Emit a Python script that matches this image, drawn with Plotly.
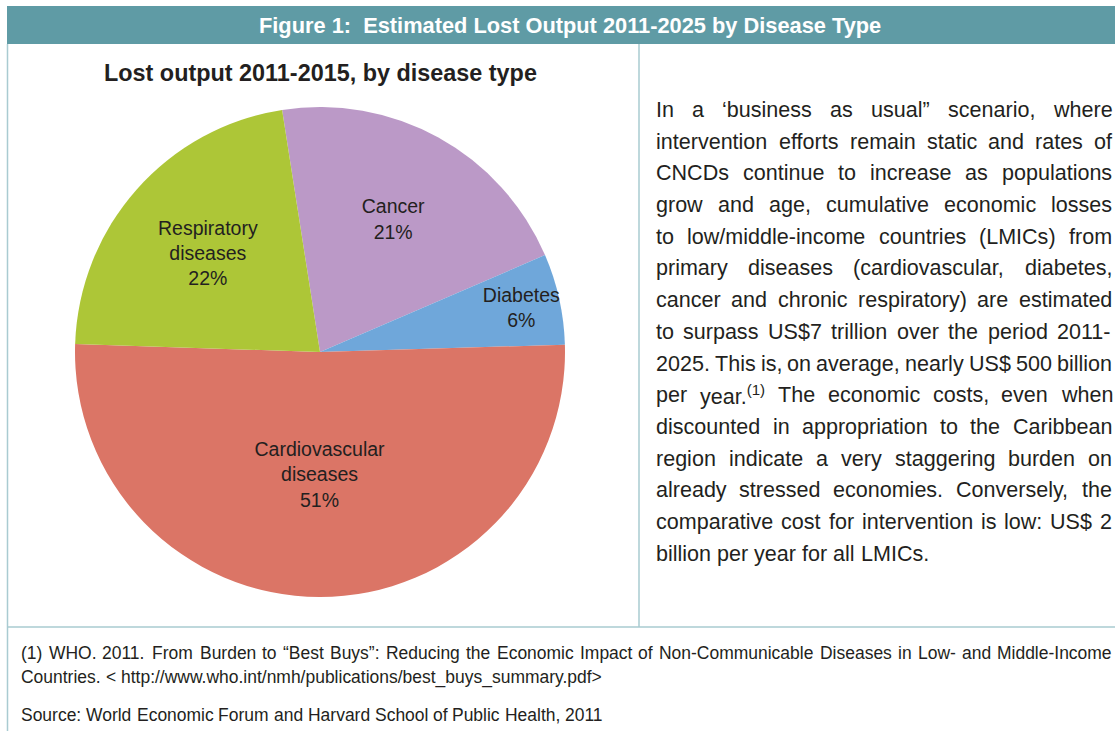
import plotly.graph_objects as go

W, H = 1115, 731

# ---- data ----
categories = ["Cancer", "Diabetes", "Cardiovascular diseases", "Respiratory diseases"]
label_text = ["Cancer", "Diabetes", "Cardiovascular<br>diseases", "Respiratory<br>diseases"]
values = [21, 6, 51, 22]
colors = ["#bb99c7", "#6fa7da", "#db7566", "#adc637"]

header = "Figure 1:\u00a0 Estimated Lost Output 2011-2025 by Disease Type"
chart_title = "Lost output 2011-2015, by disease type"
paragraph_lines = [
    "In a \u2018business as usual\u201d scenario, where",
    "intervention efforts remain static and rates of",
    "CNCDs continue to increase as populations",
    "grow and age, cumulative economic losses",
    "to low/middle-income countries (LMICs) from",
    "primary diseases (cardiovascular, diabetes,",
    "cancer and chronic respiratory) are estimated",
    "to surpass US$7 trillion over the period 2011-",
    "2025. This is, on average, nearly US$ 500 billion",
    "per year.^(1) The economic costs, even when",
    "discounted in appropriation to the Caribbean",
    "region indicate a very staggering burden on",
    "already stressed economies. Conversely, the",
    "comparative cost for intervention is low: US$ 2",
    "billion per year for all LMICs.",
]
footnote_lines = [
    "(1) WHO. 2011. From Burden to \u201cBest Buys\u201d: Reducing the Economic Impact of Non-Communicable Diseases in Low- and Middle-Income",
    "Countries. < http://www.who.int/nmh/publications/best_buys_summary.pdf>",
]
source_line = "Source: World Economic Forum and Harvard School of Public Health, 2011"

# ---- Arial / Liberation Sans advance widths (per 1000 em) ----
AW = {' ': 278, '!': 278, '"': 355, '$': 556, '%': 889, '&': 667, "'": 191, '(': 333, ')': 333,
      ',': 278, '-': 333, '.': 278, '/': 278, ':': 278, ';': 278, '<': 584, '>': 584, '=': 584,
      '?': 556, '@': 1015, '_': 556, '\u2018': 222, '\u2019': 222, '\u201c': 333, '\u201d': 333,
      'A': 667, 'B': 667, 'C': 722, 'D': 722, 'E': 667, 'F': 611, 'G': 778, 'H': 722, 'I': 278,
      'J': 500, 'K': 667, 'L': 556, 'M': 833, 'N': 722, 'O': 778, 'P': 667, 'Q': 778, 'R': 722,
      'S': 667, 'T': 611, 'U': 722, 'V': 667, 'W': 944, 'X': 667, 'Y': 667, 'Z': 611,
      'a': 556, 'b': 556, 'c': 500, 'd': 556, 'e': 556, 'f': 278, 'g': 556, 'h': 556, 'i': 222,
      'j': 222, 'k': 500, 'l': 222, 'm': 833, 'n': 556, 'o': 556, 'p': 556, 'q': 556, 'r': 333,
      's': 500, 't': 278, 'u': 556, 'v': 500, 'w': 722, 'x': 500, 'y': 500, 'z': 500}
for d in "0123456789":
    AW[d] = 556


def em(s):
    return sum(AW.get(c, 556) for c in s) / 1000.0


FONT = "Liberation Sans, Arial, sans-serif"
TXT = "#231f20"
annotations = []


def word_info(word):
    if "^" in word:
        base, sup = word.split("^")
        return base + "<sup>" + sup + "</sup>", em(base) + 0.7 * em(sup)
    return word, em(word)


def place_line(line, x0, x1, ymid, size, justify=True):
    words = line.split(" ")
    infos = [word_info(wd) for wd in words]
    widths = [inf[1] * size for inf in infos]
    if justify and len(words) > 1:
        gap = (x1 - x0 - sum(widths)) / (len(words) - 1)
    else:
        gap = em(" ") * size
    x = x0
    for (txt, _), wdt in zip(infos, widths):
        annotations.append(dict(
            x=x / W, y=1 - ymid / H, xref="paper", yref="paper",
            xanchor="left", yanchor="middle", text=txt, showarrow=False,
            borderpad=0, font=dict(family=FONT, size=size, color=TXT)))
        x += wdt + gap


# paragraph (line centres)
para_size = 273 / em(paragraph_lines[-1])
for i, ln in enumerate(paragraph_lines):
    place_line(ln, 655, 1111, 110 + i * 31.7, para_size, justify=(i < len(paragraph_lines) - 1))

# footnotes
foot_size = 583 / em(source_line)
place_line(footnote_lines[0], 20, 1111, 653, foot_size, justify=True)
place_line(footnote_lines[1], 20, 1111, 677, foot_size, justify=False)
place_line(source_line, 20, 1111, 715, foot_size, justify=False)

# header and chart title
annotations.append(dict(x=570 / W, y=1 - 25 / H, xref="paper", yref="paper", xanchor="center",
                        yanchor="middle", text="<b>" + header + "</b>", showarrow=False,
                        font=dict(family=FONT, size=21.8, color="white")))
annotations.append(dict(x=320 / W, y=1 - 73 / H, xref="paper", yref="paper", xanchor="center",
                        yanchor="middle", text="<b>" + chart_title + "</b>", showarrow=False,
                        font=dict(family=FONT, size=23.4, color=TXT)))

LINE = "#a9cbd1"
shapes = [
    dict(type="rect", xref="paper", yref="paper", x0=7 / W, x1=1.0, y0=1 - 44 / H, y1=1 - 6 / H,
         fillcolor="#5f9ba5", line=dict(width=0), layer="below"),
    dict(type="line", xref="paper", yref="paper", x0=7.5 / W, x1=7.5 / W, y0=0, y1=1 - 44 / H,
         line=dict(color=LINE, width=1.5)),
    dict(type="line", xref="paper", yref="paper", x0=639 / W, x1=639 / W, y0=1 - 627 / H, y1=1 - 44 / H,
         line=dict(color=LINE, width=1.5)),
    dict(type="line", xref="paper", yref="paper", x0=7.5 / W, x1=1.0, y0=1 - 627 / H, y1=1 - 627 / H,
         line=dict(color=LINE, width=1.5)),
]

fig = go.Figure(go.Pie(
    labels=categories, values=values, text=label_text,
    texttemplate="%{text}<br>%{percent:.0%}",
    textposition="inside", insidetextorientation="horizontal",
    textfont=dict(family=FONT, size=19.5, color=TXT),
    marker=dict(colors=colors, line=dict(width=0)),
    sort=False, direction="clockwise", rotation=-8.9,
    domain=dict(x=[75 / W, 565 / W], y=[1 - 597 / H, 1 - 107 / H]),
    showlegend=False, hoverinfo="skip",
))

fig.update_layout(
    width=W, height=H, margin=dict(l=0, r=0, t=0, b=0),
    paper_bgcolor="white", plot_bgcolor="white",
    annotations=annotations, shapes=shapes,
    uniformtext=dict(mode="show", minsize=19.5),
)

fig.write_html("out.html", config={"displayModeBar": False},
               post_script="document.body.style.margin='0px';document.body.style.overflow='hidden';")
